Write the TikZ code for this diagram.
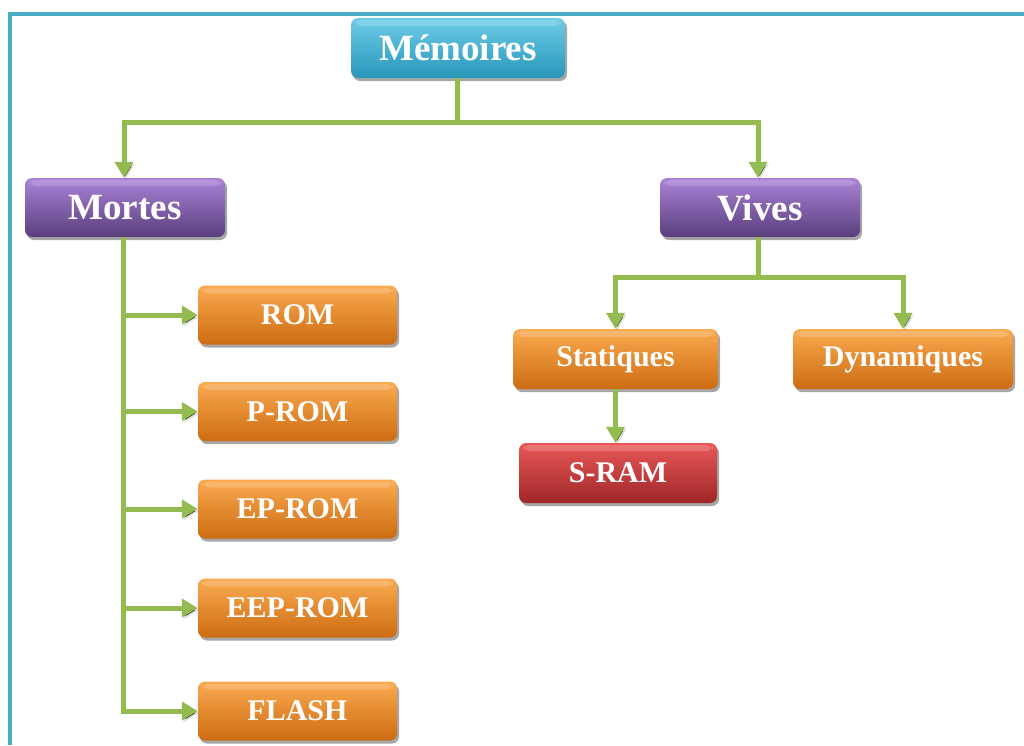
\documentclass[tikz,border=0pt]{standalone}
\usepackage{fontspec}
\setmainfont{Liberation Serif}
\usetikzlibrary{arrows.meta,shadows}

\definecolor{framecol}{HTML}{4BACC6}
\definecolor{linkcol}{HTML}{93BB50}

\begin{document}
\begin{tikzpicture}[x=1pt,y=-1pt,
  box/.style={rounded corners=7pt, inner sep=0pt, text=white,
    draw=none,
    drop shadow={shadow xshift=2pt,shadow yshift=-3pt,opacity=0.35,fill=black},
    path picture={\fill[white,opacity=0.18]
      ([xshift=4pt,yshift=-2pt]path picture bounding box.north west) rectangle
      ([xshift=-4pt,yshift=-8pt]path picture bounding box.north east);}},
  bigbox/.style={box, minimum width=200pt, minimum height=59pt,
    font=\fontsize{37}{40}\selectfont\bfseries},
  smallbox/.style={box, minimum width=199pt, minimum height=59pt,
    font=\fontsize{30}{34}\selectfont\bfseries},
  cyanfill/.style={top color={rgb,255:red,110;green,205;blue,232}, middle color={rgb,255:red,58;green,176;blue,210}, bottom color={rgb,255:red,40;green,150;blue,185}},
  purplefill/.style={top color={rgb,255:red,170;green,130;blue,215}, middle color={rgb,255:red,126;green,88;blue,168}, bottom color={rgb,255:red,90;green,62;blue,125}},
  orangefill/.style={top color={rgb,255:red,250;green,170;blue,80}, middle color={rgb,255:red,243;green,143;blue,32}, bottom color={rgb,255:red,205;green,108;blue,18}},
  redfill/.style={top color={rgb,255:red,232;green,88;blue,88}, middle color={rgb,255:red,206;green,56;blue,56}, bottom color={rgb,255:red,160;green,38;blue,40}},
  conn/.style={draw=linkcol, line width=5pt,
    preaction={draw=black, draw opacity=0.12, transform canvas={shift={(1.5pt,-2pt)}}}},
  arr/.style={conn, -{Triangle[width=18pt,length=16pt]}}
]
\useasboundingbox (0,0) rectangle (1024,745);

% outer frame (top and left edges)
\draw[framecol, line width=4pt] (10,745) -- (10,14) -- (1024,14);

% nodes
\node[bigbox, cyanfill, minimum width=214pt, minimum height=60pt] (mem) at (458,48) {Mémoires};
\node[bigbox, purplefill] (mortes) at (125,207.5) {Mortes};
\node[bigbox, purplefill] (vives) at (760,207.5) {Vives};

\node[smallbox, orangefill] (rom)    at (297.5,315)   {ROM};
\node[smallbox, orangefill] (prom)   at (297.5,411.5) {P-ROM};
\node[smallbox, orangefill] (eprom)  at (297.5,509)   {EP-ROM};
\node[smallbox, orangefill] (eeprom) at (297.5,608)   {EEP-ROM};
\node[smallbox, orangefill] (flash)  at (297.5,711)   {FLASH};

\node[smallbox, orangefill, minimum width=205pt, minimum height=60pt] (stat) at (615.5,359) {Statiques};
\node[smallbox, orangefill, minimum width=220pt, minimum height=60pt] (dyn)  at (903,359)   {Dynamiques};
\node[smallbox, redfill, minimum width=198pt, minimum height=60pt] (sram) at (618,473) {S-RAM};

% connectors
\coordinate (hubtop) at (457,122);
\coordinate (hubvives) at (758,277);
\coordinate (trunk) at (123,237);

\draw[conn] (mem.south -| hubtop) -- (hubtop);
\draw[arr] (hubtop) -| ([xshift=-1pt]mortes.north);
\draw[arr] (hubtop) -| ([xshift=-2pt]vives.north);

\draw[arr] (trunk) |- (rom.west);
\draw[arr] (trunk) |- (prom.west);
\draw[arr] (trunk) |- (eprom.west);
\draw[arr] (trunk) |- (eeprom.west);
\draw[arr] (trunk) |- (flash.west);

\draw[conn] (vives.south -| hubvives) -- (hubvives);
\draw[arr] (hubvives) -| (stat.north);
\draw[arr] (hubvives) -| (dyn.north);

\draw[arr] (stat.south) -- (stat.south |- sram.north);
\end{tikzpicture}
\end{document}
